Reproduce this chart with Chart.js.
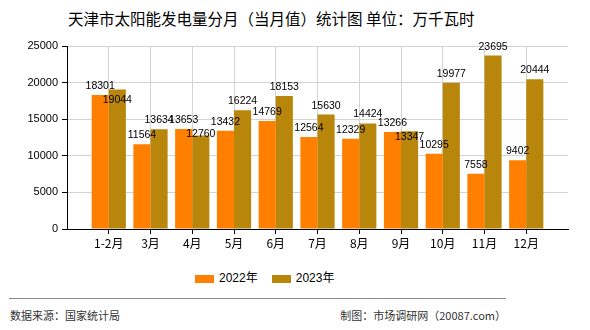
<!DOCTYPE html>
<html>
<head>
<meta charset="utf-8">
<script src="https://cdn.jsdelivr.net/npm/chart.js@4.4.1/dist/chart.umd.min.js"></script>
<style>
    body { margin: 0; background: #fff; }
    #wrap { position: relative; width: 590px; height: 330px; overflow: hidden; font-family: "Noto Sans CJK SC", sans-serif; }
    #title { position: absolute; left: 68px; top: 7px; font-size: 15.5px; color: #000; white-space: nowrap; }
    #chart-box { position: absolute; left: 0; top: 0; width: 590px; height: 260px; }
    #legend { position: absolute; left: 195px; top: 268px; font-size: 12px; color: #000; white-space: nowrap; }
    #legend span.box { display: inline-block; width: 19px; height: 8px; vertical-align: middle; margin-right: 5px; }
    #legend span.item { margin-right: 14px; font-family: "Liberation Sans", "Noto Sans CJK SC", sans-serif; }
    #footer-line { position: absolute; left: 9px; top: 298px; width: 497px; height: 1px; background: #888; }
    #source { position: absolute; left: 10px; top: 307px; font-size: 11px; color: #333; }
    #maker { position: absolute; right: 84px; top: 307px; font-size: 11px; color: #333; }
</style>
</head>
<body>
<div id="wrap">
    <div id="title">天津市太阳能发电量分月（当月值）统计图 单位：万千瓦时</div>
    <div id="chart-box"><canvas id="solar-chart" width="590" height="260"></canvas></div>
    <div id="legend"></div>
    <div id="footer-line"></div>
    <div id="source">数据来源：国家统计局</div>
    <div id="maker">制图：市场调研网（20087.com）</div>
</div>
<script>
const categories = ['1-2月', '3月', '4月', '5月', '6月', '7月', '8月', '9月', '10月', '11月', '12月'];
const values2022 = [18301, 11564, 13653, 13432, 14769, 12564, 12329, 13266, 10295, 7558, 9402];
const values2023 = [19044, 13634, 12760, 16224, 18153, 15630, 14424, 13347, 19977, 23695, 20444];
const seriesNames = ['2022年', '2023年'];
const seriesColors = ['#FF8000', '#B8860B'];
const yTicks = [0, 5000, 10000, 15000, 20000, 25000];

// empty slot on each side so the months sit on the gridlines
const pad = arr => [null, ...arr, null];

const valueLabels = {
    id: 'valueLabels',
    afterDatasetsDraw(chart) {
        const ctx = chart.ctx;
        ctx.save();
        ctx.font = '10.5px "Liberation Sans", Arial, sans-serif';
        ctx.fillStyle = '#000';
        ctx.textAlign = 'center';
        ctx.textBaseline = 'alphabetic';
        const m0 = chart.getDatasetMeta(0);
        const m1 = chart.getDatasetMeta(1);
        m0.data.forEach((bar, i) => {
            const v0 = chart.data.datasets[0].data[i];
            const v1 = chart.data.datasets[1].data[i];
            if (v0 == null || v1 == null) return;
            const bar1 = m1.data[i];
            let y0 = bar.y - 6;
            let y1 = bar1.y - 6;
            if (Math.abs(y0 - y1) < 12) {
                y1 = y0 + 14;
            }
            ctx.fillText(String(v0), bar.x, y0);
            ctx.fillText(String(v1), bar1.x, y1);
        });
        ctx.restore();
    }
};

const ctx = document.getElementById('solar-chart').getContext('2d');
const chartInstance = new Chart(ctx, {
    type: 'bar',
    data: {
        labels: pad(categories),
        datasets: [
            { label: seriesNames[0], data: pad(values2022), backgroundColor: seriesColors[0] },
            { label: seriesNames[1], data: pad(values2023), backgroundColor: seriesColors[1] }
        ]
    },
    options: {
        responsive: false,
        animation: false,
        layout: { padding: { left: 0, right: 22, top: 46, bottom: 6 } },
        datasets: { bar: { categoryPercentage: 0.82, barPercentage: 1.0 } },
        plugins: {
            legend: { display: false },
            tooltip: { enabled: false }
        },
        scales: {
            x: {
                offset: false,
                grid: { offset: false, color: '#d3d3d3', tickColor: '#000', tickLength: 5 },
                border: { color: '#000' },
                ticks: {
                    autoSkip: false, maxRotation: 0, padding: 2, color: '#000',
                    font: { family: '"Noto Sans CJK SC", sans-serif', size: 12 }
                },
                afterFit: scale => { scale.height = 25; }
            },
            y: {
                min: 0,
                max: yTicks[yTicks.length - 1],
                afterBuildTicks: scale => { scale.ticks = yTicks.map(v => ({ value: v })); },
                grid: { color: '#d3d3d3', tickColor: '#000', tickLength: 5 },
                border: { color: '#000' },
                ticks: {
                    padding: 4, color: '#000',
                    font: { family: '"Liberation Sans", Arial, sans-serif', size: 11 },
                    callback: value => String(value)
                },
                afterFit: scale => { scale.width = 67; }
            }
        }
    },
    plugins: [valueLabels]
});

const legend = document.getElementById('legend');
seriesNames.forEach((name, i) => {
    const item = document.createElement('span');
    item.className = 'item';
    const box = document.createElement('span');
    box.className = 'box';
    box.style.background = seriesColors[i];
    item.appendChild(box);
    item.appendChild(document.createTextNode(name));
    legend.appendChild(item);
});
</script>
</body>
</html>
